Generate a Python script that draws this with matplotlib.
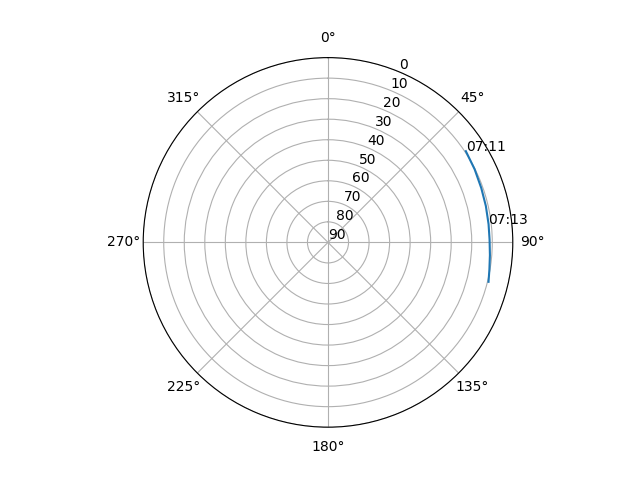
import numpy as np
import matplotlib
matplotlib.use('Agg')
import matplotlib.pyplot as plt

# pass track: azimuth (deg) / elevation (deg)
az = [56.5, 63.5, 70.5, 77.0, 83.5, 89.0, 94.5, 99.5, 103.8]
el = [9.5, 10.2, 10.8, 11.1, 11.3, 11.3, 10.9, 10.3, 9.5]
# time labels at selected points
lbl_idx = [0, 4]
lbl_txt = ['07:11', '07:13']

fig = plt.figure(figsize=(6.4, 4.8), dpi=100)
ax = fig.add_subplot(111, projection='polar')
ax.set_theta_zero_location('N')
ax.set_theta_direction(-1)

th = np.radians(az)
ax.plot(th, el)
for i, t in zip(lbl_idx, lbl_txt):
    ax.text(th[i], el[i], t)

ax.set_ylim(90, 0)
ax.set_yticks(range(0, 91, 10))

fig.savefig('out.png')
